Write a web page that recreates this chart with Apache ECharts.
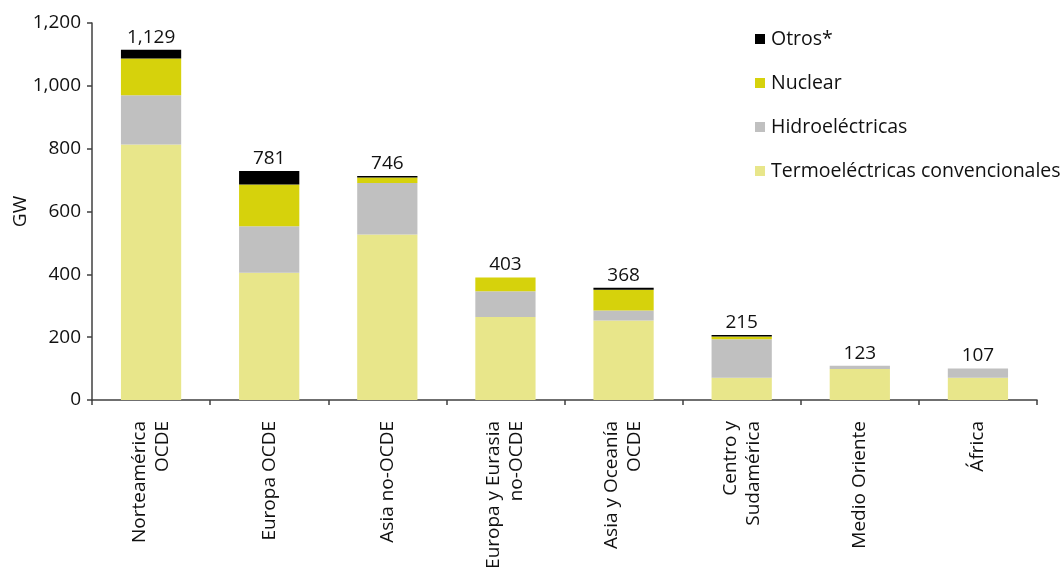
<!DOCTYPE html>
<html>
<head>
<meta charset="utf-8">
<script src="https://cdn.jsdelivr.net/npm/echarts@6/dist/echarts.min.js"></script>
<style>
html,body{margin:0;padding:0;background:#fff;}
#chart{width:1063px;height:567px;}
</style>
</head>
<body>
<div id="chart"></div>
<script>
var categories = ['Norteamérica\nOCDE', 'Europa OCDE', 'Asia no-OCDE', 'Europa y Eurasia\nno-OCDE', 'Asia y Oceanía\nOCDE', 'Centro y\nSudamérica', 'Medio Oriente', 'África'];
var termo = [813, 405, 527, 264, 253, 71, 99, 71];
var hidro = [157, 148, 164, 82, 32, 122, 10, 29];
var nuclear = [117, 133, 17, 44, 66, 9, 0, 0];
var otros = [28, 43, 5, 0, 6, 5, 0, 0];
var totals = ['1,129', '781', '746', '403', '368', '215', '123', '107'];
var yTicks = [0, 200, 400, 600, 800, 1000, 1200];

var FONT = '"Open Sans", "Noto Sans", sans-serif';
var TXT = '#111111';
var FS = 19;

var chart = echarts.init(document.getElementById('chart'));
function fmt(v){ return v.toString().replace(/\B(?=(\d{3})+(?!\d))/g, ','); }
var barW = '51%';
chart.setOption({
  animation: false,
  textStyle: {fontFamily: FONT},
  grid: {left: 92, right: 26, top: 23, bottom: 167, containLabel: false, outerBoundsMode: 'none'},
  legend: {
    orient: 'vertical', left: 750, top: 24, itemGap: 24,
    itemWidth: 10, itemHeight: 10, icon: 'rect',
    textStyle: {fontFamily: FONT, fontSize: 19.5, color: TXT, padding: [0,0,0,1]},
    data: ['Otros*', 'Nuclear', 'Hidroeléctricas', 'Termoeléctricas convencionales']
  },
  xAxis: {
    type: 'category', data: categories,
    axisLine: {lineStyle: {color: '#404040', width: 1.5}},
    axisTick: {show: true, length: 5, lineStyle: {color: '#404040', width: 1.5}},
    axisLabel: {rotate: 90, margin: 21, interval: 0, fontFamily: FONT, fontSize: FS, color: TXT, lineHeight: 23}
  },
  yAxis: {
    type: 'value', min: 0, max: 1200, interval: 200,
    name: 'GW', nameLocation: 'middle', nameGap: 62, nameMoveOverlap: false,
    nameTextStyle: {fontFamily: FONT, fontSize: FS, color: TXT},
    splitLine: {show: false},
    axisLine: {show: true, lineStyle: {color: '#404040', width: 1.5}},
    axisTick: {show: true, length: 5, lineStyle: {color: '#404040', width: 1.5}},
    axisLabel: {margin: 11, fontFamily: FONT, fontSize: FS, color: TXT, formatter: function(v){ return fmt(v); }}
  },
  series: [
    {name: 'Termoeléctricas convencionales', type: 'bar', stack: 't', barWidth: barW, data: termo, itemStyle: {color: '#E8E68A'}},
    {name: 'Hidroeléctricas', type: 'bar', stack: 't', data: hidro, itemStyle: {color: '#C0C0C0'}},
    {name: 'Nuclear', type: 'bar', stack: 't', data: nuclear, itemStyle: {color: '#D6D20C'}},
    {name: 'Otros*', type: 'bar', stack: 't', data: otros, itemStyle: {color: '#000000'},
      label: {show: true, position: 'top', distance: 3, fontFamily: FONT, fontSize: FS, color: TXT,
        formatter: function(p){ return totals[p.dataIndex]; }}}
  ]
});
</script>
</body>
</html>
